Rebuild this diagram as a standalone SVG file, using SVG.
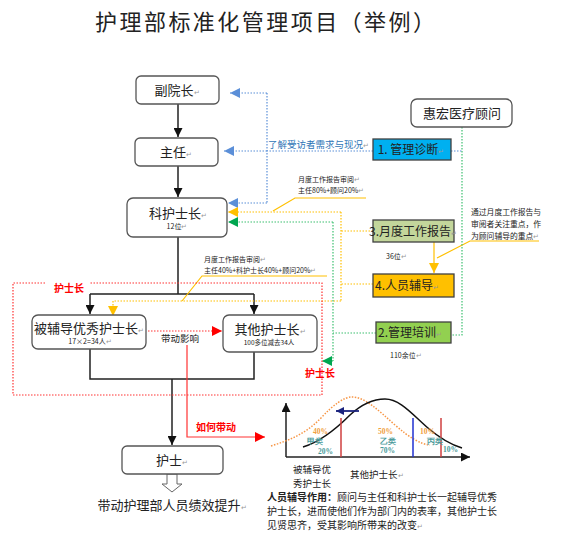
<svg xmlns="http://www.w3.org/2000/svg" width="576" height="541" viewBox="0 0 576 541">
<style>
text{font-family:"Noto Sans CJK SC","Liberation Sans",sans-serif;fill:#222}
.node{fill:#fff;stroke:#555;stroke-width:1.3}
.box{stroke:#404040;stroke-width:1.3}
.pm{fill:#999;font-size:7px}
.blk{fill:none;stroke:#222;stroke-width:1.5}
.bd{fill:none;stroke:#5b8fd8;stroke-width:1.2;stroke-dasharray:1.5 1.5}
.yd{fill:none;stroke:#ffc000;stroke-width:1.2;stroke-dasharray:1.5 1.5}
.ys{fill:none;stroke:#ffc000;stroke-width:1.2}
.gd{fill:none;stroke:#3cc070;stroke-width:1.2;stroke-dasharray:1.5 1.5}
.rd{fill:none;stroke:#ff3333;stroke-width:1.2;stroke-dasharray:1.5 1.5}
.rs{fill:none;stroke:#ff3333;stroke-width:1.2}
.sm{font-size:7px}
.red{fill:#ff0000;font-weight:bold;font-size:10px}
.ch{font-family:"Liberation Serif",serif;font-size:7.5px;font-weight:bold}
.or{fill:#f0a040}
.tl{fill:#4a9a9a}
</style>
<defs>
<marker id="mk" viewBox="0 0 10 10" refX="10" refY="5" markerWidth="9" markerHeight="9" markerUnits="userSpaceOnUse" orient="auto"><path d="M0,0L10,5L0,10z" fill="#111"/></marker>
<marker id="mb" viewBox="0 0 10 10" refX="10" refY="5" markerWidth="10" markerHeight="10" markerUnits="userSpaceOnUse" orient="auto"><path d="M0,0L10,5L0,10z" fill="#5b8fd8"/></marker>
<marker id="my" viewBox="0 0 10 10" refX="10" refY="5" markerWidth="10" markerHeight="10" markerUnits="userSpaceOnUse" orient="auto"><path d="M0,0L10,5L0,10z" fill="#ffc000"/></marker>
<marker id="mg" viewBox="0 0 10 10" refX="10" refY="5" markerWidth="10" markerHeight="10" markerUnits="userSpaceOnUse" orient="auto"><path d="M0,0L10,5L0,10z" fill="#00a650"/></marker>
<marker id="mr" viewBox="0 0 10 10" refX="10" refY="5" markerWidth="10" markerHeight="10" markerUnits="userSpaceOnUse" orient="auto"><path d="M0,0L10,5L0,10z" fill="#ff0000"/></marker>
<marker id="mn" viewBox="0 0 10 10" refX="10" refY="5" markerWidth="8" markerHeight="8" markerUnits="userSpaceOnUse" orient="auto"><path d="M0,0L10,5L0,10z" fill="#1a237e"/></marker>
</defs>
<rect width="576" height="541" fill="#fff"/>
<text x="265" y="30" font-size="22" text-anchor="middle" textLength="340">护理部标准化管理项目（举例）</text>

<g id="connectors">
<path class="blk" d="M178,104V137" marker-end="url(#mk)"/>
<path class="blk" d="M178,166V197" marker-end="url(#mk)"/>
<path class="blk" d="M178,237V294M90,294H254"/>
<path class="blk" d="M90,294V314" marker-end="url(#mk)"/>
<path class="blk" d="M254,294V314" marker-end="url(#mk)"/>
<path class="blk" d="M90,349V379H254V352"/>
<path class="blk" d="M172,379V445" marker-end="url(#mk)"/>
<polygon points="167,474 177,474 177,484 182,484 172,492 162,484 167,484" fill="#fff" stroke="#666" stroke-width="1"/>

<path class="bd" d="M267,93V203M373,151H267M451,151H462"/>
<path class="bd" d="M267,93H230" marker-end="url(#mb)"/>
<path class="bd" d="M267,151H224" marker-end="url(#mb)"/>
<path class="bd" d="M267,203H228" marker-end="url(#mb)"/>

<path class="yd" d="M373,231H341M341,212V301M373,284H341"/>
<path class="yd" d="M341,212H228" marker-end="url(#my)"/>
<path class="yd" d="M341,301H113V316" marker-end="url(#my)"/>
<path class="ys" d="M366,198H295L273,211M327,276H202L182,301M539,241H470L437,258"/>
<path class="ys" d="M434,242V273" marker-end="url(#my)" stroke-width="1.5"/>

<path class="gd" d="M462,127V335H451M376,333H333M333,222V361"/>
<path class="gd" d="M333,222H228" marker-end="url(#mg)"/>
<path class="gd" d="M333,361H322" marker-end="url(#mg)"/>

<path class="rd" d="M45,283H13V395H322V283H90"/>
<path class="rd" d="M148,331H222" marker-end="url(#mr)"/>
<path class="rs" d="M187,345V437H265" marker-end="url(#mr)"/>
</g>

<g id="n-fuyuanzhang"><rect class="node" x="136" y="76" width="83" height="28" rx="5"/><text x="177" y="95" font-size="13" text-anchor="middle">副院长<tspan class="pm">↵</tspan></text></g>
<g id="n-zhuren"><rect class="node" x="135" y="138" width="83" height="28" rx="5"/><text x="176" y="157" font-size="13" text-anchor="middle">主任<tspan class="pm">↵</tspan></text></g>
<g id="n-kehushizhang"><rect class="node" x="127" y="198" width="100" height="39" rx="6"/><text x="178" y="218" font-size="13" text-anchor="middle">科护士长<tspan class="pm">↵</tspan></text><text x="177" y="229" class="sm" text-anchor="middle">12位<tspan class="pm">↵</tspan></text></g>
<g id="n-youxiu"><rect class="node" x="32" y="315" width="114" height="34" rx="6"/><text x="89" y="333" font-size="13" text-anchor="middle">被辅导优秀护士长<tspan class="pm">↵</tspan></text><text x="90" y="344" class="sm" text-anchor="middle">17×2=34人<tspan class="pm">↵</tspan></text></g>
<g id="n-qita"><rect class="node" x="223" y="315" width="94" height="37" rx="6"/><text x="270" y="334" font-size="13" text-anchor="middle">其他护士长<tspan class="pm">↵</tspan></text><text x="269" y="345" font-size="6.5" text-anchor="middle">100多位减去34人</text></g>
<g id="n-hushi"><rect class="node" x="122" y="446" width="101" height="28" rx="5"/><text x="172" y="465" font-size="13" text-anchor="middle">护士<tspan class="pm">↵</tspan></text></g>
<g id="t-tisheng"><text x="172" y="510" font-size="13" text-anchor="middle">带动护理部人员绩效提升<tspan class="pm">↵</tspan></text></g>

<g id="n-guwen"><rect class="node" x="411" y="99" width="101" height="28" rx="6"/><text x="462" y="118" font-size="13" text-anchor="middle">惠宏医疗顾问</text></g>
<g id="n-zhenduan"><rect class="box" x="373" y="139" width="78" height="21" fill="#00b0f0"/><text x="411" y="154" font-size="12" text-anchor="middle">1. 管理诊断<tspan class="pm">↵</tspan></text></g>
<g id="n-baogao"><rect class="box" x="373" y="220" width="81" height="22" fill="#c3d69b"/><text x="413" y="236" font-size="12" text-anchor="middle">3.月度工作报告<tspan class="pm">↵</tspan></text></g>
<g id="n-fudao"><rect class="box" x="373" y="274" width="81" height="23" fill="#ffc000"/><text x="375" y="290" font-size="12">4.人员辅导<tspan class="pm">↵</tspan></text></g>
<g id="n-peixun"><rect class="box" x="376" y="322" width="75" height="21" fill="#92d050"/><text x="378" y="337" font-size="12">2.管理培训<tspan class="pm">↵</tspan></text></g>

<g id="labels">
<text x="268" y="148" font-size="9.5" fill="#2e75b6" style="fill:#2e75b6">了解受访者需求与现况<tspan class="pm">↵</tspan></text>
<text x="298" y="182" class="sm">月度工作报告审阅<tspan class="pm">↵</tspan></text>
<text x="298" y="193" class="sm">主任80%+顾问20%<tspan class="pm">↵</tspan></text>
<text x="204" y="262" class="sm">月度工作报告审阅<tspan class="pm">↵</tspan></text>
<text x="204" y="273" class="sm">主任40%+科护士长40%+顾问20%<tspan class="pm">↵</tspan></text>
<text x="471" y="215" font-size="7.8">通过月度工作报告与</text>
<text x="471" y="227" font-size="7.8">审阅者关注重点，作</text>
<text x="471" y="239" font-size="7.8">为顾问辅导的重点<tspan class="pm">↵</tspan></text>
<text x="386" y="259" class="sm">36位<tspan class="pm">↵</tspan></text>
<text x="390" y="358" class="sm">110余位<tspan class="pm">↵</tspan></text>
<text x="161" y="342" font-size="9.5">带动影响</text>
<text x="54" y="292" class="red">护士长</text>
<text x="305" y="377" class="red">护士长</text>
<text x="196" y="431" class="red">如何带动</text>
</g>

<g id="chart">
<path class="blk" d="M286,457V403" marker-end="url(#mk)"/>
<path class="blk" d="M286,457H470" marker-end="url(#mk)"/>
<path d="M271,446C290,440 305,434 320,419C334,404 344,397 352,397C365,397 378,410 395,425C410,438 420,444 430,445" fill="none" stroke="#f79646" stroke-width="1.5" stroke-dasharray="1.5 1.5"/>
<path d="M303,447C320,442 335,430 350,415C364,402 375,399 385,399C400,399 412,414 428,428C442,440 452,445 462,448" fill="none" stroke="#111" stroke-width="1.5"/>
<path d="M341,418V457M441,418V457" stroke="#d04040" stroke-width="1.5"/>
<path d="M413,418V457" stroke="#2030d0" stroke-width="1.5"/>
<path d="M359,411H336" stroke="#1a237e" stroke-width="1.8" marker-end="url(#mn)"/>
<text x="313" y="434" class="ch or">40%</text>
<text x="307" y="444" class="ch tl">甲类</text>
<text x="318" y="454" class="ch tl">20%</text>
<text x="378" y="434" class="ch or">50%</text>
<text x="380" y="444" class="ch tl">乙类</text>
<text x="380" y="453" class="ch tl">70%</text>
<text x="420" y="434" class="ch or">10%</text>
<text x="427" y="444" class="ch tl">丙类</text>
<text x="443" y="452" class="ch tl">10%</text>
<text x="312" y="473" font-size="9.5" text-anchor="middle">被辅导优</text>
<text x="312" y="487" font-size="9.5" text-anchor="middle">秀护士长</text>
<text x="350" y="478" font-size="9.5">其他护士长<tspan class="pm">↵</tspan></text>
</g>

<g id="note">
<text x="267" y="501" font-size="10"><tspan font-weight="bold">人员辅导作用：</tspan>顾问与主任和科护士长一起辅导优秀</text>
<text x="267" y="515" font-size="10">护士长，进而使他们作为部门内的表率，其他护士长</text>
<text x="267" y="529" font-size="10">见贤思齐，受其影响所带来的改变<tspan class="pm">↵</tspan></text>
</g>
</svg>
